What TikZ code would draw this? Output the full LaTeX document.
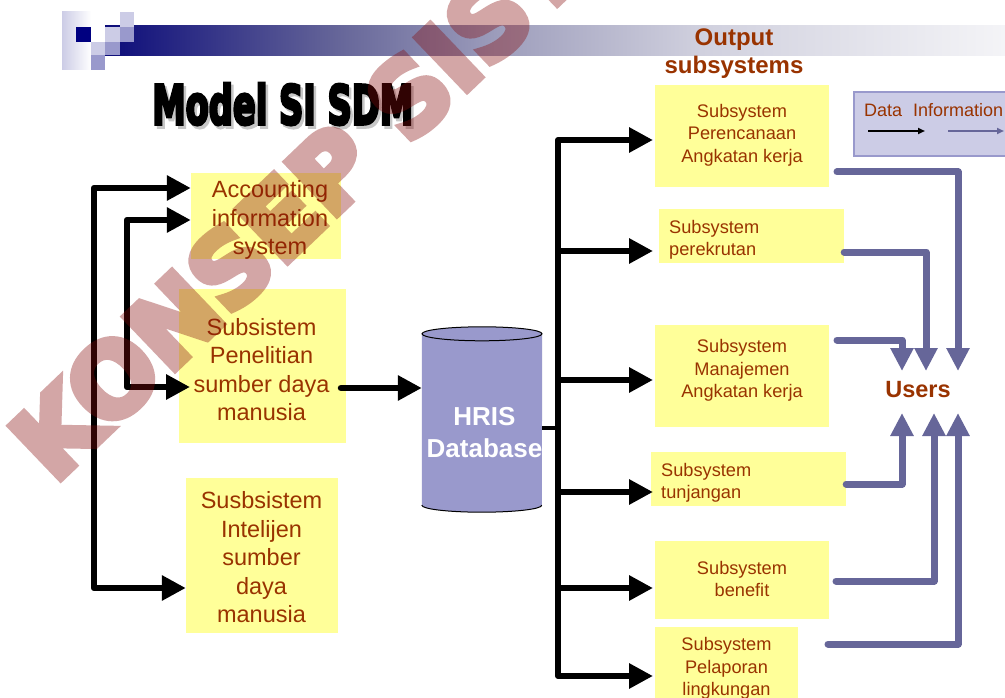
\documentclass[tikz,border=0pt]{standalone}
\usepackage{graphicx}
\usepackage{fontspec}
\setmainfont{Liberation Sans}
\newfontfamily\djv{DejaVu Sans}[BoldFeatures={FakeBold=7}]
\newfontfamily\djvt{DejaVu Sans}[BoldFeatures={FakeBold=6}]
\usetikzlibrary{arrows.meta}
\definecolor{navyc}{RGB}{0,0,128}
\definecolor{lav}{RGB}{204,204,230}
\definecolor{lavm}{RGB}{153,153,204}
\definecolor{ybox}{RGB}{255,255,153}
\definecolor{txtbrown}{RGB}{153,51,0}
\definecolor{infoblue}{RGB}{102,102,153}
\definecolor{dbfill}{RGB}{153,153,204}
\definecolor{wmred}{RGB}{134,10,10}
\definecolor{barA}{RGB}{12,12,122}
\definecolor{barB}{RGB}{100,100,152}
\definecolor{barC}{RGB}{158,158,188}
\definecolor{barD}{RGB}{208,208,222}
\definecolor{barE}{RGB}{244,244,247}
\begin{document}
\begin{tikzpicture}[x=1pt,y=-1pt,
  ybx/.style={fill=ybox, draw=none, inner sep=0pt, rectangle},
  ltxt/.style={font=\fontsize{23.5}{28.5}\selectfont, text=txtbrown, align=center, inner sep=0pt},
  rtxt/.style={font=\fontsize{18.2}{22.3}\selectfont, text=txtbrown, align=center, inner sep=0pt},
  rltxt/.style={font=\fontsize{18.2}{22.3}\selectfont, text=txtbrown, align=left, inner sep=0pt, anchor=west},
  blk/.style={line width=6.5pt, draw=black, line join=round, line cap=round},
  bus/.style={line width=6pt, draw=black, line join=round, line cap=round},
  blu/.style={line width=7pt, draw=infoblue, line join=round, line cap=round},
  btip/.tip={Triangle[length=24pt,width=24pt]},
  ctip/.tip={Triangle[length=23pt,width=22pt]},
  stip/.tip={Triangle[length=7pt,width=6pt]},
  wm/.style={font=\djv\bfseries\fontsize{100}{100}\selectfont, text=wmred, inner sep=0pt}
]
\useasboundingbox (0,0) rectangle (1005,698);
\clip (0,0) rectangle (1005,698);
\fill[white] (0,0) rectangle (1005,698);

% header bar
\shade[left color=barA, right color=barB] (105,26) rectangle (333.5,55.5);
\shade[left color=barB, right color=barC] (333,26) rectangle (500.5,55.5);
\shade[left color=barC, right color=barD] (500,26) rectangle (700.5,55.5);
\shade[left color=barD, right color=barE] (700,26) rectangle (1005,55.5);
% logo squares
\shade[left color=lav, right color=white] (62,12) rectangle (91,70);
\fill[navyc] (76,27) rectangle (91,42);
\fill[lav] (105,27) rectangle (119.5,42);
\fill[lav] (119.5,12) rectangle (134,27);
\fill[lavm] (119.5,27) rectangle (134,42);
\fill[lav] (91,42) rectangle (105,55.5);
\fill[lavm] (105,42) rectangle (119.5,55.5);
\fill[lavm] (91,55.5) rectangle (105,70);

% title
\node[anchor=north west, inner sep=0pt, text=black!22] (titleshadow) at (154.5,86) {\resizebox{261pt}{41pt}{\djvt\bfseries Model SI SDM}};
\node[anchor=north west, inner sep=0pt] (title) at (152,83) {\resizebox{261pt}{41pt}{\djvt\bfseries Model SI SDM}};

\node[font=\bfseries\fontsize{24}{28}\selectfont, text=txtbrown, align=center, inner sep=0pt] (outT) at (734,53.5) {Output\\subsystems};

% left boxes
\node[ybx, minimum width=150pt, minimum height=86pt] (acc) at (266,216) {};
\node[ltxt] (accT) at (270,220) {Accounting\\information\\system};
\node[ybx, minimum width=167pt, minimum height=154pt] (pen) at (262.5,366) {};
\node[ltxt] (penT) at (261.5,369.5) {Subsistem\\Penelitian\\sumber daya\\manusia};
\node[ybx, minimum width=152pt, minimum height=155pt] (intel) at (262,555.5) {};
\node[ltxt] (intelT) at (261.5,557.5) {Susbsistem\\Intelijen\\sumber\\daya\\manusia};

% right boxes
\node[ybx, minimum width=174pt, minimum height=102pt] (perA) at (742,136) {};
\node[rtxt] (perAT) at (742,135) {Subsystem\\Perencanaan\\Angkatan kerja};
\node[ybx, minimum width=185pt, minimum height=54pt] (rek) at (751.5,236) {};
\node[rltxt] (rekT) at (669,239.5) {Subsystem\\perekrutan};
\node[ybx, minimum width=174pt, minimum height=102pt] (man) at (742,376) {};
\node[rtxt] (manT) at (742,370.5) {Subsystem\\Manajemen\\Angkatan kerja};
\node[ybx, minimum width=195pt, minimum height=54pt] (tun) at (748.5,479) {};
\node[rltxt] (tunT) at (661,482.5) {Subsystem\\tunjangan};
\node[ybx, minimum width=174pt, minimum height=78pt] (ben) at (742,580) {};
\node[rtxt] (benT) at (742,579) {Subsystem\\benefit};
\node[ybx, minimum width=143pt, minimum height=83pt] (lap) at (726.5,668.5) {};
\node[rtxt] (lapT) at (726.5,668.5) {Subsystem\\Pelaporan\\lingkungan};

% legend
\node[fill=lav, draw=lavm, line width=1.5pt, minimum width=156pt, minimum height=64pt, inner sep=0pt] (leg) at (932,124) {};
\node[font=\fontsize{18}{22}\selectfont, text=txtbrown, anchor=base west, inner sep=0pt] (legD) at (864,116.5) {Data};
\node[font=\fontsize{18}{22}\selectfont, text=txtbrown, anchor=base west, inner sep=0pt] (legI) at (913,116.5) {Information};
\coordinate (ld1) at (868,131); \coordinate (ld2) at (925,131);
\coordinate (li1) at (948,131); \coordinate (li2) at (1004,131);
\draw[line width=2pt, black, -stip] (ld1) -- (ld2);
\draw[line width=2pt, infoblue, -stip] (li1) -- (li2);

% users
\node[font=\bfseries\fontsize{23.5}{28}\selectfont, text=txtbrown, inner sep=0pt] (users) at (918,390) {Users};

% database cylinder
\node[inner sep=0pt, minimum width=120pt, minimum height=171pt] (db) at (482,419.5) {};
\fill[dbfill] (db.north west) -- (db.south west) arc[start angle=180, end angle=360, x radius=60pt, y radius=7pt] -- (db.north east) -- cycle;
\draw[black, line width=1pt] (db.south west) arc[start angle=180, end angle=360, x radius=60pt, y radius=7pt];
\draw[black, line width=1pt, fill=dbfill] (db.north) ellipse[x radius=60pt, y radius=7pt];
\node[font=\bfseries\fontsize{26}{32}\selectfont, text=white, align=center, inner sep=0pt] (dbT) at (484.5,433) {HRIS\\Database};

% left connectors
\draw[blk, btip-btip] (acc.west|-0,188) -- (94,188) -- (94,588) -- (intel.west|-0,588);
\draw[blk, btip-btip] (acc.west|-0,220) -- (127,220) -- (127,387) -- (190,387);
\coordinate (penout) at (341,388);
\draw[blk, -btip] (penout) -- (db.west|-0,388);

% bus
\coordinate (bustop) at (558,140);
\coordinate (busbot) at (558,676);
\draw[line width=4pt] (db.east|-0,428) -- (558,428);
\draw[bus, -btip] (558,428) -- (bustop) -- (653,140);
\draw[bus, -btip] (558,428) -- (busbot) -- (653,676);
\draw[bus, -btip] (558,251) -- (653,251);
\draw[bus, -btip] (558,380) -- (653,380);
\draw[bus, -btip] (558,492) -- (653,492);
\draw[bus, -btip] (558,588) -- (653,588);

% information connectors to users
\coordinate (u1) at (902,371); \coordinate (u2) at (926,371); \coordinate (u3) at (958,371);
\coordinate (d1) at (902,413); \coordinate (d2) at (934,413); \coordinate (d3) at (958,413);
\draw[blu, -ctip] (837,172) -| (u3);
\draw[blu, -ctip] (rek.east|-0,252) -| (u2);
\draw[blu, -ctip] (837,340) -| (u1);
\draw[blu, -ctip] (tun.east|-0,484) -| (d1);
\draw[blu, -ctip] (836,581) -| (d2);
\draw[blu, -ctip] (828,644) -| (d3);

% watermark
\begin{scope}[transparency group, opacity=0.36]
\node[wm, anchor=base west, rotate=43.7] (wmk) at (54,485) {KONSEP SISTEM INFORMASI};
\end{scope}
\end{tikzpicture}
\end{document}
